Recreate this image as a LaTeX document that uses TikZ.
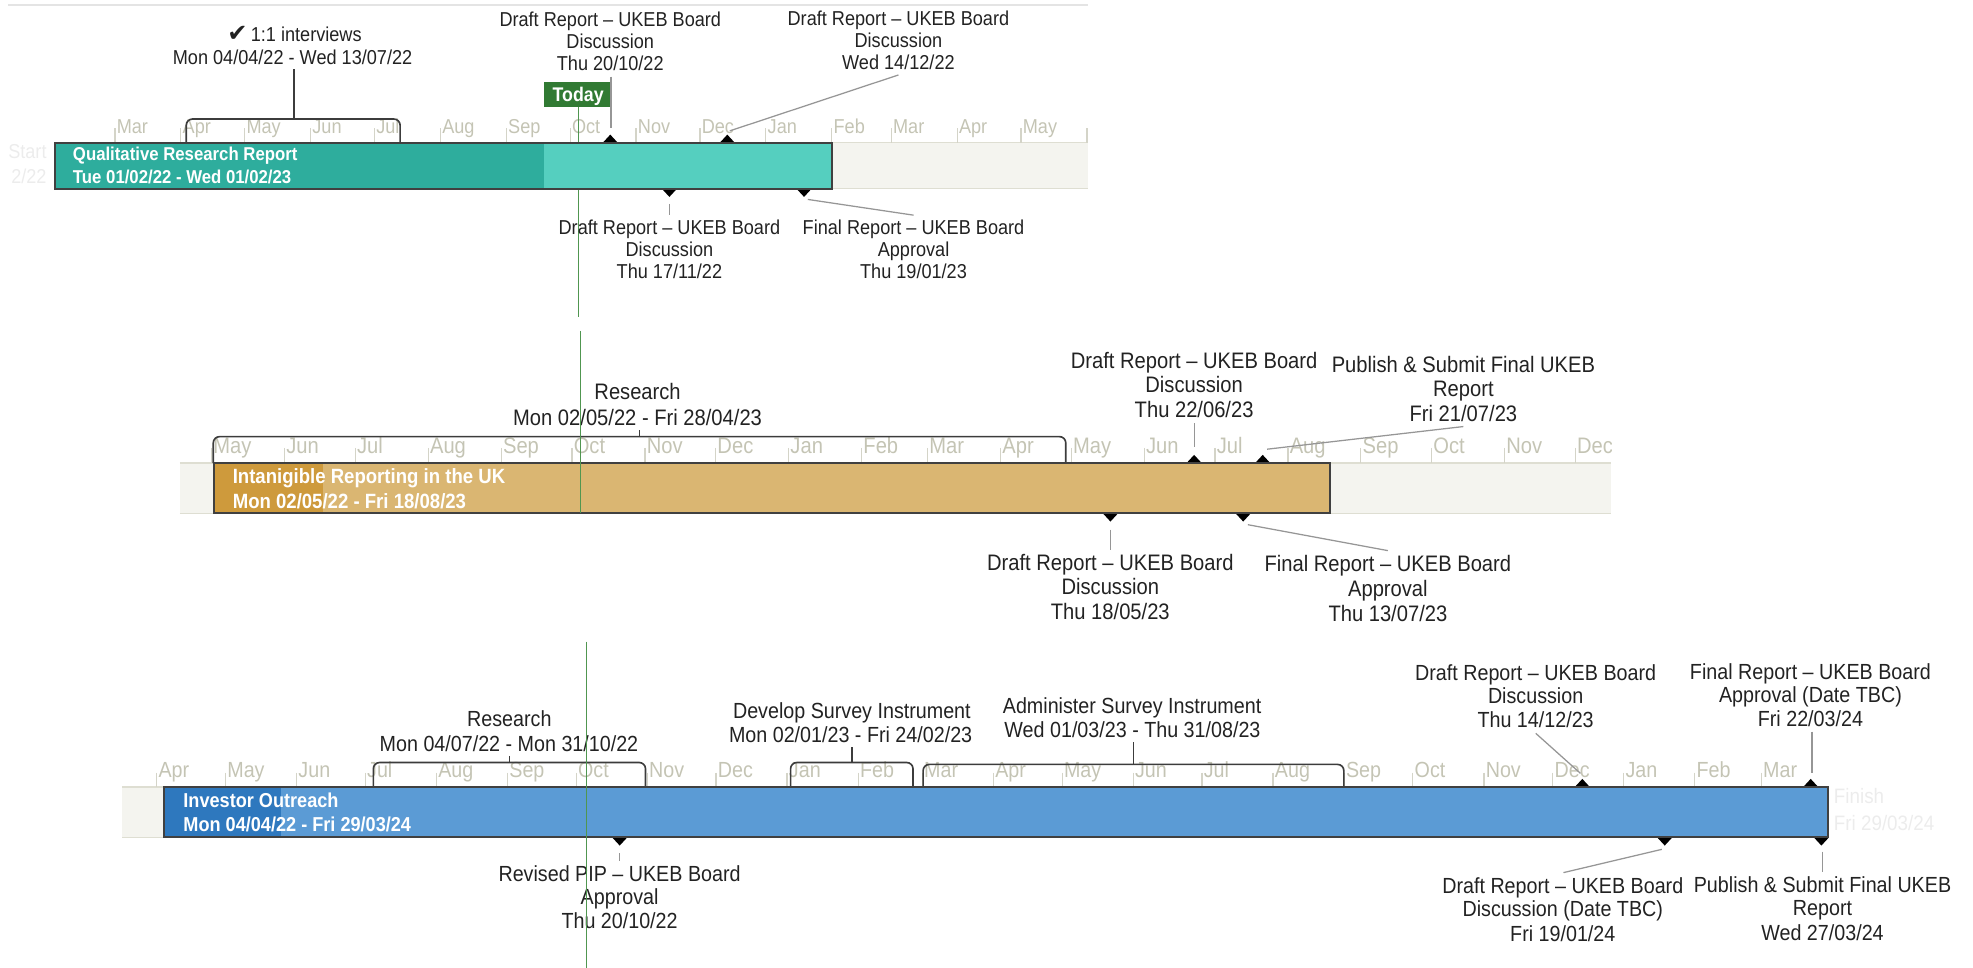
\documentclass[tikz,border=0pt]{standalone}
\usepackage{fontspec}
\setmainfont{Liberation Sans}[FakeStretch=0.9]
\newfontfamily\symf{DejaVu Sans}
\usetikzlibrary{shapes.geometric}
\definecolor{txtc}{RGB}{34,34,34}
\definecolor{monthc}{RGB}{196,196,180}
\definecolor{tickc}{RGB}{212,212,200}
\definecolor{stripf}{RGB}{244,244,239}
\definecolor{stripb}{RGB}{222,222,210}
\definecolor{topc}{RGB}{228,228,228}
\definecolor{barbc}{RGB}{64,64,64}
\definecolor{tealD}{RGB}{46,173,157}
\definecolor{tealL}{RGB}{85,207,191}
\definecolor{goldD}{RGB}{206,154,60}
\definecolor{goldL}{RGB}{218,182,114}
\definecolor{blueD}{RGB}{46,120,190}
\definecolor{blueL}{RGB}{91,155,213}
\definecolor{todayg}{RGB}{49,122,51}
\definecolor{todayln}{RGB}{80,150,80}
\definecolor{ldrc}{RGB}{150,150,150}
\definecolor{brkc}{RGB}{60,60,60}
\definecolor{faintc}{RGB}{236,236,236}
\begin{document}
\begin{tikzpicture}[x=0.5pt,y=-0.5pt,
  every node/.style={inner sep=0pt,outer sep=0pt},
  ta/.style={text=txtc,anchor=base,yshift=-2.86pt,font=\fontsize{8}{8}\selectfont},
  tb/.style={text=txtc,anchor=base,yshift=-3.19pt,font=\fontsize{8.9}{8.9}\selectfont},
  tc/.style={text=txtc,anchor=base,yshift=-3.11pt,font=\fontsize{8.7}{8.7}\selectfont},
  mla/.style={text=monthc,anchor=base west,yshift=-2.86pt,font=\fontsize{8}{8}\selectfont},
  mlb/.style={text=monthc,anchor=base west,yshift=-3.19pt,font=\fontsize{8.9}{8.9}\selectfont},
  mlc/.style={text=monthc,anchor=base west,yshift=-3.11pt,font=\fontsize{8.7}{8.7}\selectfont},
  bla/.style={text=white,anchor=base west,yshift=-2.65pt,font=\bfseries\fontsize{7.4}{7.4}\selectfont},
  blb/.style={text=white,anchor=base west,yshift=-2.94pt,font=\bfseries\fontsize{8.2}{8.2}\selectfont},
  blc/.style={text=white,anchor=base west,yshift=-2.86pt,font=\bfseries\fontsize{8}{8}\selectfont},
  tickln/.style={draw=tickc,line width=0.5pt},
  dia/.style={diamond,fill=black,minimum width=6pt,minimum height=6.5pt,inner sep=0pt},
  brk/.style={draw=brkc,line width=0.65pt,rounded corners=2.5pt},
  sumln/.style={draw=brkc,line width=0.55pt},
  ldr/.style={draw=ldrc,line width=0.5pt},
  barb/.style={draw=barbc,line width=0.85pt},
  tline/.style={draw=todayln,line width=0.55pt},
  todaybox/.style={fill=todayg,text=white,font=\bfseries\fontsize{7.85}{7.85}\selectfont,
    minimum width=27pt,minimum height=10pt,text height=5.6pt,text depth=0pt},
  faintA/.style={text=faintc,anchor=base east,yshift=-2.86pt,font=\fontsize{8}{8}\selectfont},
  faintC/.style={text=faintc,anchor=base west,yshift=-2.98pt,font=\fontsize{8.3}{8.3}\selectfont}
]
\useasboundingbox (0,0) rectangle (1568,769);

% ---------------- top line
\coordinate (tl0) at (6.7,4); \coordinate (tl9) at (865,4);
\draw[draw=topc,line width=0.6pt] (tl0) -- (tl9);

% ================= PANEL 1 =================
\fill[stripf] (44,113.5) rectangle (865,150);
\draw[draw=stripb,line width=0.5pt] (44,113.5) -- (865,113.5) (44,150) -- (865,150);
\foreach \x/\m [count=\i] in {91.3/Mar,143.7/Apr,194.4/May,246.8/Jun,297.6/Jul,350.0/Aug,402.4/Sep,453.1/Oct,505.5/Nov,556.2/Dec,608.6/Jan,661/Feb,708.3/Mar,760.7/Apr,811.4/May}{
  \draw[tickln] (\x,102) -- (\x,113.5);
  \node[mla] (pa\i) at (\x+1.5,100) {\m};
}
\draw[tickln] (863.8,102) -- (863.8,113.5);

\node[faintA] (st1) at (37,120.5) {Start};
\node[faintA] (st2) at (37,140) {2/22};

% today
\node[todaybox] (today) at (459.5,75) {Today};
\coordinate (tl1) at (459.5,252);
\draw[tline] (today.south) -- (tl1);

% summary bracket
\draw[brk] (148,113.5) -- (148,94.6) -- (318,94.6) -- (318,113.5);
\node[ta] (s1a) at (234,27.3) {{\symf\fontsize{9.6}{9.6}\selectfont ✔}\,1:1 interviews};
\node[ta] (s1b) at (232.5,45.6) {Mon 04/04/22 - Wed 13/07/22};
\coordinate (s1low) at (233.5,55); \coordinate (s1top) at (233.5,94.6);
\draw[sumln] (s1low) -- (s1top);

% milestones
\node[dia] (d1) at (485,113.5) {};
\node[dia] (d2) at (578,113.5) {};
\node[dia] (d3) at (532,150) {};
\node[dia] (d4) at (639,150) {};

% bar
\fill[tealD] (44,113.5) rectangle (432,150);
\fill[tealL] (432,113.5) rectangle (661,150);
\draw[barb] (44,113.5) rectangle (661,150);
\node[bla] (b1a) at (58,122.6) {Qualitative Research Report};
\node[bla] (b1b) at (58,140.4) {Tue 01/02/22 - Wed 01/02/23};

% callouts
\node[ta] (m1a) at (485,15.1) {Draft Report – UKEB Board};
\node[ta] (m1b) at (485,33.1) {Discussion};
\node[ta] (m1c) at (485,50.3) {Thu 20/10/22};
\coordinate (l1a) at (485.5,61); \coordinate (l1b) at (485.5,102);
\draw[ldr] (l1a) -- (l1b);

\node[ta] (m2a) at (714,14.6) {Draft Report – UKEB Board};
\node[ta] (m2b) at (714,31.8) {Discussion};
\node[ta] (m2c) at (714,49.8) {Wed 14/12/22};
\coordinate (l2a) at (714,59.6); \coordinate (l2b) at (580,104);
\draw[ldr] (l2a) -- (l2b);

\node[ta] (m3a) at (532,181) {Draft Report – UKEB Board};
\node[ta] (m3b) at (532,198) {Discussion};
\node[ta] (m3c) at (532,216) {Thu 17/11/22};
\coordinate (l3a) at (532,162); \coordinate (l3b) at (532,171);
\draw[ldr] (l3a) -- (l3b);

\node[ta] (m4a) at (726,181) {Final Report – UKEB Board};
\node[ta] (m4b) at (726,198) {Approval};
\node[ta] (m4c) at (726,216) {Thu 19/01/23};
\coordinate (l4a) at (642,158.5); \coordinate (l4b) at (726,171);
\draw[ldr] (l4a) -- (l4b);

% ================= PANEL 2 =================
\fill[stripf] (143,368) rectangle (1280,408);
\draw[draw=stripb,line width=0.5pt] (143,368) -- (1280,368) (143,408) -- (1280,408);
\begin{scope}
\clip (143,330) rectangle (1281,370);
\foreach \x/\m [count=\i] in {168.1/May,226.1/Jun,282.3/Jul,340.3/Aug,398.3/Sep,454.5/Oct,512.5/Nov,568.7/Dec,626.7/Jan,684.7/Feb,737.1/Mar,795.1/Apr,851.3/May,909.3/Jun,965.5/Jul,1023.5/Aug,1081.5/Sep,1137.7/Oct,1195.7/Nov,1251.9/Dec}{
  \draw[tickln] (\x,356) -- (\x,368);
  \node[mlb] (pb\i) at (\x+1.5,353.7) {\m};
}
\end{scope}

\draw[brk] (169.5,368) -- (169.5,347) -- (847,347) -- (847,368);
\node[tb] (s2a) at (506.7,311.3) {Research};
\node[tb] (s2b) at (506.7,332) {Mon 02/05/22 - Fri 28/04/23};
\coordinate (s2low) at (508,342); \coordinate (s2top) at (508,347);
\draw[sumln] (s2low) -- (s2top);

\node[dia] (d5) at (949,368) {};
\node[dia] (d6) at (1003.5,368) {};
\node[dia] (d7) at (882.5,408) {};
\node[dia] (d8) at (988,408) {};

\fill[goldD] (170,368) rectangle (257,408);
\fill[goldL] (257,368) rectangle (1057,408);
\draw[barb] (170,368) rectangle (1057,408);
\node[blb] (b2a) at (185,378) {Intanigible Reporting in the UK};
\node[blb] (b2b) at (185,398) {Mon 02/05/22 - Fri 18/08/23};

\node[tb] (m5a) at (949,286.6) {Draft Report – UKEB Board};
\node[tb] (m5b) at (949,305.2) {Discussion};
\node[tb] (m5c) at (949,325.3) {Thu 22/06/23};
\coordinate (l5a) at (949,336.4); \coordinate (l5b) at (949,355);
\draw[ldr] (l5a) -- (l5b);

\node[tb] (m6a) at (1163,289.3) {Publish \& Submit Final UKEB};
\node[tb] (m6b) at (1163,308.6) {Report};
\node[tb] (m6c) at (1163,328.5) {Fri 21/07/23};
\coordinate (l6a) at (1163,339); \coordinate (l6b) at (1007,357);
\draw[ldr] (l6a) -- (l6b);

\node[tb] (m7a) at (882.4,447.2) {Draft Report – UKEB Board};
\node[tb] (m7b) at (882.4,466.2) {Discussion};
\node[tb] (m7c) at (882.4,486.1) {Thu 18/05/23};
\coordinate (l7a) at (882.5,421); \coordinate (l7b) at (882.5,437);
\draw[ldr] (l7a) -- (l7b);

\node[tb] (m8a) at (1103,448.2) {Final Report – UKEB Board};
\node[tb] (m8b) at (1103,467.6) {Approval};
\node[tb] (m8c) at (1103,487.4) {Thu 13/07/23};
\coordinate (l8a) at (991.7,417); \coordinate (l8b) at (1103,437.6);
\draw[ldr] (l8a) -- (l8b);

\coordinate (tl2a) at (461.5,263); \coordinate (tl2b) at (461.5,408);
\draw[tline] (tl2a) -- (tl2b);

% ================= PANEL 3 =================
\fill[stripf] (97,625.5) rectangle (1452,665.5);
\draw[draw=stripb,line width=0.5pt] (97,625.5) -- (1452,625.5) (97,665.5) -- (1452,665.5);
\foreach \x/\m [count=\i] in {124.5/Apr,179.2/May,235.7/Jun,290.3/Jul,346.8/Aug,403.3/Sep,457.9/Oct,514.4/Nov,569.0/Dec,625.5/Jan,682.0/Feb,733.0/Mar,789.5/Apr,844.1/May,900.6/Jun,955.2/Jul,1011.7/Aug,1068.2/Sep,1122.8/Oct,1179.3/Nov,1234.0/Dec,1290.4/Jan,1346.9/Feb,1399.7/Mar}{
  \draw[tickln] (\x,614) -- (\x,625.5);
  \node[mlc] (pc\i) at (\x+1.5,612) {\m};
}

\draw[brk] (296.7,625.5) -- (296.7,606) -- (513,606) -- (513,625.5);
\node[tc] (s3a) at (404.8,571.4) {Research};
\node[tc] (s3b) at (404.5,591.3) {Mon 04/07/22 - Mon 31/10/22};
\coordinate (s3low) at (404.8,600.8); \coordinate (s3top) at (404.8,606);
\draw[sumln] (s3low) -- (s3top);

\draw[brk] (628.3,625.5) -- (628.3,606) -- (725.6,606) -- (725.6,625.5);
\node[tc] (s4a) at (677,564.8) {Develop Survey Instrument};
\node[tc] (s4b) at (676,584) {Mon 02/01/23 - Fri 24/02/23};
\coordinate (s4low) at (677,594); \coordinate (s4top) at (677,606);
\draw[sumln] (s4low) -- (s4top);

\draw[brk] (733.6,625.5) -- (733.6,607.5) -- (1068,607.5) -- (1068,625.5);
\node[tc] (s5a) at (899.7,560.8) {Administer Survey Instrument};
\node[tc] (s5b) at (900,580) {Wed 01/03/23 - Thu 31/08/23};
\coordinate (s5low) at (900.8,590); \coordinate (s5top) at (900.8,607.5);
\draw[sumln] (s5low) -- (s5top);

\node[dia] (d9) at (1257.5,625.5) {};
\node[dia] (d10) at (1439,625.5) {};
\node[dia] (d11) at (492.5,665.5) {};
\node[dia] (d12) at (1323,665.5) {};
\node[dia] (d13) at (1447.5,665.5) {};

\fill[blueD] (130,625.5) rectangle (223,665.5);
\fill[blueL] (223,625.5) rectangle (1452.5,665.5);
\draw[barb] (130,625.5) rectangle (1452.5,665.5);
\node[blc] (b3a) at (145.8,635.8) {Investor Outreach};
\node[blc] (b3b) at (145.8,655) {Mon 04/04/22 - Fri 29/03/24};

\node[faintC] (fi1) at (1457.5,632.6) {Finish};
\node[faintC] (fi2) at (1457.5,653.8) {Fri 29/03/24};

\node[tc] (m9a) at (1220.4,534.3) {Draft Report – UKEB Board};
\node[tc] (m9b) at (1220.4,552.9) {Discussion};
\node[tc] (m9c) at (1220.4,572.2) {Thu 14/12/23};
\coordinate (l9a) at (1220.5,582.8); \coordinate (l9b) at (1256,614.6);
\draw[ldr] (l9a) -- (l9b);

\node[tc] (m10a) at (1438.8,533.8) {Final Report – UKEB Board};
\node[tc] (m10b) at (1438.8,551.8) {Approval (Date TBC)};
\node[tc] (m10c) at (1438.8,571.4) {Fri 22/03/24};
\coordinate (l10a) at (1440,581.5); \coordinate (l10b) at (1440,614.6);
\draw[ldr] (l10a) -- (l10b);

\node[tc] (m11a) at (492.4,694) {Revised PIP – UKEB Board};
\node[tc] (m11b) at (492.4,712.6) {Approval};
\node[tc] (m11c) at (492.4,732) {Thu 20/10/22};
\coordinate (l11a) at (492.6,678); \coordinate (l11b) at (492.6,684);
\draw[ldr] (l11a) -- (l11b);

\node[tc] (m12a) at (1242,704.1) {Draft Report – UKEB Board};
\node[tc] (m12b) at (1242,721.9) {Discussion (Date TBC)};
\node[tc] (m12c) at (1242,741.7) {Fri 19/01/24};
\coordinate (l12a) at (1320.7,675); \coordinate (l12b) at (1242.5,693.5);
\draw[ldr] (l12a) -- (l12b);

\node[tc] (m13a) at (1448.4,703.4) {Publish \& Submit Final UKEB};
\node[tc] (m13b) at (1448.4,721.4) {Report};
\node[tc] (m13c) at (1448.4,740.9) {Wed 27/03/24};
\coordinate (l13a) at (1448.6,676.8); \coordinate (l13b) at (1448.6,692.7);
\draw[ldr] (l13a) -- (l13b);

\coordinate (tl3a) at (466.3,510); \coordinate (tl3b) at (466.3,769);
\draw[tline] (tl3a) -- (tl3b);
\end{tikzpicture}
\end{document}
